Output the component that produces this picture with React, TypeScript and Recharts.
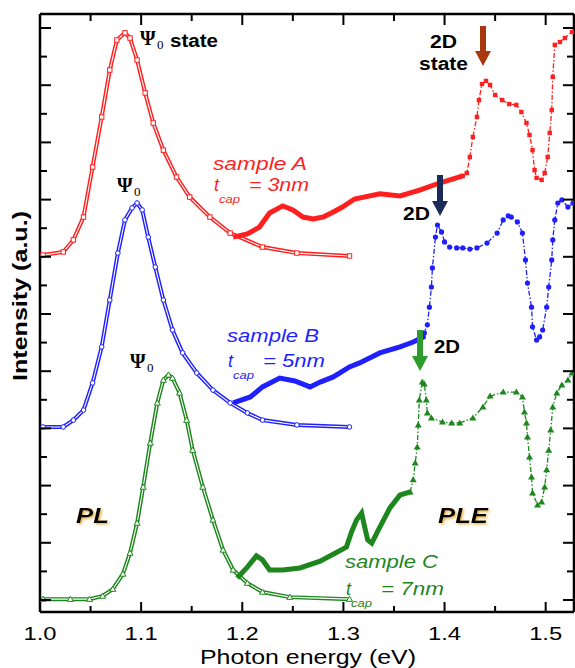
import { ComposedChart, Line, XAxis, YAxis } from 'recharts'

// x: photon energy (eV), i: intensity in tick units (a.u.)
const xTicks = [1.0, 1.05, 1.1, 1.15, 1.2, 1.25, 1.3, 1.35, 1.4, 1.45, 1.5]
const xTickLabels = ['1.0', '1.1', '1.2', '1.3', '1.4', '1.5']
const yTicks = [0, 1, 2, 3, 4, 5, 6, 7, 8, 9, 10, 11, 12, 13, 14, 15, 16, 17, 18, 19, 20]

const plA = [
  { e: 1.003, i: 12.06 }, { e: 1.023, i: 12.17 }, { e: 1.033, i: 12.59 }, { e: 1.043, i: 13.39 },
  { e: 1.052, i: 15.14 }, { e: 1.061, i: 16.89 }, { e: 1.069, i: 18.53 }, { e: 1.076, i: 19.58 },
  { e: 1.084, i: 19.83 }, { e: 1.089, i: 19.65 }, { e: 1.096, i: 18.88 }, { e: 1.104, i: 17.73 },
  { e: 1.112, i: 16.68 }, { e: 1.122, i: 15.73 }, { e: 1.135, i: 14.79 }, { e: 1.148, i: 14.09 },
  { e: 1.168, i: 13.39 }, { e: 1.188, i: 12.83 }, { e: 1.220, i: 12.34 }, { e: 1.254, i: 12.13 },
  { e: 1.306, i: 12.03 }
]

const plB = [
  { e: 1.003, i: 6.05 }, { e: 1.023, i: 6.05 }, { e: 1.033, i: 6.29 }, { e: 1.043, i: 6.64 },
  { e: 1.052, i: 7.59 }, { e: 1.061, i: 8.85 }, { e: 1.069, i: 10.49 }, { e: 1.077, i: 12.13 },
  { e: 1.084, i: 13.29 }, { e: 1.091, i: 13.71 }, { e: 1.096, i: 13.88 }, { e: 1.101, i: 13.64 },
  { e: 1.107, i: 12.69 }, { e: 1.114, i: 11.64 }, { e: 1.122, i: 10.49 }, { e: 1.131, i: 9.44 },
  { e: 1.141, i: 8.64 }, { e: 1.155, i: 7.94 }, { e: 1.171, i: 7.34 }, { e: 1.188, i: 6.89 },
  { e: 1.205, i: 6.54 }, { e: 1.220, i: 6.29 }, { e: 1.254, i: 6.12 }, { e: 1.306, i: 6.05 }
]

const plC = [
  { e: 1.003, i: 0.03 }, { e: 1.030, i: 0.03 }, { e: 1.049, i: 0.03 }, { e: 1.062, i: 0.14 },
  { e: 1.072, i: 0.38 }, { e: 1.082, i: 0.91 }, { e: 1.089, i: 1.64 }, { e: 1.096, i: 2.69 },
  { e: 1.102, i: 3.95 }, { e: 1.109, i: 5.49 }, { e: 1.116, i: 6.89 }, { e: 1.122, i: 7.69 },
  { e: 1.127, i: 7.87 }, { e: 1.131, i: 7.76 }, { e: 1.138, i: 7.24 }, { e: 1.145, i: 6.29 },
  { e: 1.151, i: 5.24 }, { e: 1.161, i: 3.95 }, { e: 1.171, i: 2.80 }, { e: 1.181, i: 1.75 },
  { e: 1.191, i: 1.05 }, { e: 1.205, i: 0.59 }, { e: 1.220, i: 0.28 }, { e: 1.247, i: 0.10 },
  { e: 1.306, i: 0.03 }
]

const pleADense = [
  { e: 1.191, i: 12.69 }, { e: 1.205, i: 12.80 }, { e: 1.217, i: 13.04 }, { e: 1.227, i: 13.53 },
  { e: 1.240, i: 13.78 }, { e: 1.250, i: 13.64 }, { e: 1.260, i: 13.39 }, { e: 1.270, i: 13.32 },
  { e: 1.280, i: 13.39 }, { e: 1.290, i: 13.57 }, { e: 1.299, i: 13.74 }, { e: 1.311, i: 14.02 },
  { e: 1.336, i: 14.20 }, { e: 1.356, i: 14.13 }, { e: 1.376, i: 14.34 }, { e: 1.395, i: 14.58 },
  { e: 1.418, i: 14.83 }
]

const pleASparse = [
  { e: 1.418, i: 14.83 }, { e: 1.422, i: 14.93 }, { e: 1.425, i: 15.49 }, { e: 1.428, i: 16.19 },
  { e: 1.432, i: 16.89 }, { e: 1.434, i: 17.48 }, { e: 1.437, i: 18.04 }, { e: 1.441, i: 18.15 },
  { e: 1.445, i: 18.01 }, { e: 1.450, i: 17.66 }, { e: 1.457, i: 17.48 }, { e: 1.464, i: 17.34 },
  { e: 1.471, i: 17.31 }, { e: 1.476, i: 17.06 }, { e: 1.481, i: 16.68 }, { e: 1.484, i: 16.26 },
  { e: 1.487, i: 15.73 }, { e: 1.489, i: 15.03 }, { e: 1.491, i: 14.76 }, { e: 1.496, i: 14.69 },
  { e: 1.499, i: 14.93 }, { e: 1.502, i: 15.49 }, { e: 1.504, i: 16.33 }, { e: 1.506, i: 17.13 },
  { e: 1.507, i: 18.29 }, { e: 1.509, i: 19.41 }, { e: 1.514, i: 19.51 }, { e: 1.519, i: 19.65 },
  { e: 1.526, i: 19.86 }
]

const pleBDense = [
  { e: 1.191, i: 6.89 }, { e: 1.208, i: 7.10 }, { e: 1.220, i: 7.45 }, { e: 1.237, i: 7.76 },
  { e: 1.252, i: 7.66 }, { e: 1.267, i: 7.45 }, { e: 1.277, i: 7.62 }, { e: 1.290, i: 7.80 },
  { e: 1.306, i: 8.15 }, { e: 1.316, i: 8.29 }, { e: 1.336, i: 8.64 }, { e: 1.356, i: 8.85 },
  { e: 1.369, i: 9.02 }, { e: 1.379, i: 9.20 }
]

const pleBSparse = [
  { e: 1.379, i: 9.20 }, { e: 1.380, i: 9.34 }, { e: 1.383, i: 9.62 }, { e: 1.385, i: 10.24 },
  { e: 1.387, i: 10.94 }, { e: 1.388, i: 11.61 }, { e: 1.391, i: 12.69 }, { e: 1.393, i: 13.11 },
  { e: 1.397, i: 12.87 }, { e: 1.400, i: 12.52 }, { e: 1.405, i: 12.34 }, { e: 1.412, i: 12.31 },
  { e: 1.418, i: 12.31 }, { e: 1.425, i: 12.27 }, { e: 1.432, i: 12.31 }, { e: 1.442, i: 12.48 },
  { e: 1.452, i: 12.83 }, { e: 1.458, i: 13.29 }, { e: 1.463, i: 13.43 }, { e: 1.466, i: 13.39 },
  { e: 1.472, i: 13.22 }, { e: 1.477, i: 12.83 }, { e: 1.480, i: 11.89 }, { e: 1.482, i: 11.08 },
  { e: 1.486, i: 10.24 }, { e: 1.487, i: 9.55 }, { e: 1.491, i: 9.09 }, { e: 1.494, i: 9.20 },
  { e: 1.497, i: 9.44 }, { e: 1.501, i: 10.24 }, { e: 1.503, i: 10.94 }, { e: 1.506, i: 11.89 },
  { e: 1.507, i: 12.59 }, { e: 1.509, i: 13.29 }, { e: 1.512, i: 13.88 }, { e: 1.516, i: 13.99 },
  { e: 1.522, i: 13.74 }, { e: 1.527, i: 13.88 }
]

const pleCDense = [
  { e: 1.195, i: 0.77 }, { e: 1.205, i: 1.15 }, { e: 1.214, i: 1.54 }, { e: 1.220, i: 1.40 },
  { e: 1.227, i: 1.05 }, { e: 1.240, i: 1.05 }, { e: 1.257, i: 1.12 }, { e: 1.277, i: 1.36 },
  { e: 1.294, i: 1.68 }, { e: 1.303, i: 1.85 }, { e: 1.308, i: 2.38 }, { e: 1.313, i: 2.80 },
  { e: 1.318, i: 3.04 }, { e: 1.321, i: 2.55 }, { e: 1.324, i: 2.10 }, { e: 1.328, i: 1.99 },
  { e: 1.336, i: 2.55 }, { e: 1.346, i: 3.22 }, { e: 1.356, i: 3.67 }, { e: 1.366, i: 3.78 }
]

const pleCSparse = [
  { e: 1.366, i: 3.78 }, { e: 1.369, i: 4.20 }, { e: 1.371, i: 4.79 }, { e: 1.373, i: 5.35 },
  { e: 1.374, i: 6.12 }, { e: 1.375, i: 6.99 }, { e: 1.378, i: 7.62 }, { e: 1.380, i: 7.55 },
  { e: 1.382, i: 6.99 }, { e: 1.383, i: 6.54 }, { e: 1.387, i: 6.36 }, { e: 1.398, i: 6.22 },
  { e: 1.407, i: 6.19 }, { e: 1.415, i: 6.19 }, { e: 1.428, i: 6.36 }, { e: 1.438, i: 6.75 },
  { e: 1.445, i: 7.13 }, { e: 1.458, i: 7.27 }, { e: 1.471, i: 7.27 }, { e: 1.477, i: 7.10 },
  { e: 1.479, i: 6.57 }, { e: 1.481, i: 6.19 }, { e: 1.482, i: 5.70 }, { e: 1.484, i: 5.00 },
  { e: 1.486, i: 4.30 }, { e: 1.487, i: 3.74 }, { e: 1.492, i: 3.32 }, { e: 1.496, i: 3.43 },
  { e: 1.499, i: 3.95 }, { e: 1.501, i: 4.55 }, { e: 1.503, i: 5.24 }, { e: 1.505, i: 5.94 },
  { e: 1.507, i: 6.75 }, { e: 1.511, i: 7.24 }, { e: 1.516, i: 7.52 }, { e: 1.522, i: 7.69 },
  { e: 1.526, i: 7.94 }
]

const RED = '#ff1f1f'
const BLUE = '#1f1fff'
const GREEN = '#1d861d'
const SANS = '"Liberation Sans", Arial, sans-serif'
const SERIF = '"Liberation Serif", "DejaVu Serif", serif'

// ticks point into the plot; major every 0.1 eV / every 2nd y unit
function BottomTick(props: any) {
  const { x, y, payload } = props
  const idx = Math.round((payload.value - 1) * 20)
  const major = idx % 2 === 0
  return (
    <g>
      <line x1={x} x2={x} y1={y} y2={y - (major ? 10 : 6)} stroke="#000" strokeWidth={2} />
      {major && (
        <text x={x} y={y + 28} textAnchor="middle" fontSize={19} fontFamily={SANS}
          textLength={33} lengthAdjust="spacingAndGlyphs" fill="#000">
          {xTickLabels[idx / 2]}
        </text>
      )}
    </g>
  )
}

function TopTick(props: any) {
  const { x, y, payload } = props
  const major = Math.round((payload.value - 1) * 20) % 2 === 0
  return <line x1={x} x2={x} y1={y} y2={y + (major ? 11 : 7)} stroke="#000" strokeWidth={2} />
}

function LeftTick(props: any) {
  const { x, y, payload } = props
  const major = payload.value % 2 === 0
  return <line x1={x} x2={x + (major ? 11 : 7)} y1={y} y2={y} stroke="#000" strokeWidth={2} />
}

function RightTick(props: any) {
  const { x, y, payload } = props
  const major = payload.value % 2 === 0
  return <line x1={x} x2={x - (major ? 11 : 7)} y1={y} y2={y} stroke="#000" strokeWidth={2} />
}

const openSquare = (p: any) =>
  p.cx == null ? <g /> : <rect x={p.cx - 2.2} y={p.cy - 2.2} width={4.4} height={4.4} fill="#fff" stroke={RED} strokeWidth={1} />
const openCircle = (p: any) =>
  p.cx == null ? <g /> : <circle cx={p.cx} cy={p.cy} r={2.3} fill="#fff" stroke={BLUE} strokeWidth={1} />
const openTriangle = (p: any) =>
  p.cx == null ? <g /> : <path d={`M${p.cx},${p.cy - 3} L${p.cx + 3},${p.cy + 2.2} L${p.cx - 3},${p.cy + 2.2} Z`} fill="#fff" stroke={GREEN} strokeWidth={1} />
const fillSquare = (p: any) =>
  p.cx == null ? <g /> : <rect x={p.cx - 2.2} y={p.cy - 2.2} width={4.4} height={4.4} fill={RED} />
const fillCircle = (p: any) =>
  p.cx == null ? <g /> : <circle cx={p.cx} cy={p.cy} r={2.6} fill={BLUE} />
const fillTriangle = (p: any) =>
  p.cx == null ? <g /> : <path d={`M${p.cx},${p.cy - 3.5} L${p.cx + 3.5},${p.cy + 2.5} L${p.cx - 3.5},${p.cy + 2.5} Z`} fill={GREEN} />

const DASH = '5 2 1.5 2'

function Arrow({ x, y1, y2, color }: { x: number; y1: number; y2: number; color: string }) {
  const head = 15
  return (
    <g fill={color}>
      <rect x={x - 3} y={y1} width={6} height={y2 - y1 - head + 1} />
      <path d={`M${x - 8},${y2 - head} L${x + 8},${y2 - head} L${x},${y2} Z`} />
    </g>
  )
}

function Psi({ x, y }: { x: number; y: number }) {
  return (
    <g fill="#000" fontFamily={SERIF} fontWeight="bold">
      <text x={x} y={y} fontSize={20}>Ψ</text>
      <text x={x + 17} y={y + 4} fontSize={13} fontWeight="normal">0</text>
    </g>
  )
}

function Sample({ x, y, name, value, color, gap, w1, w2 }: any) {
  return (
    <g fill={color} fontFamily={SANS} fontStyle="italic">
      <text x={x} y={y} fontSize={18} textLength={w1} lengthAdjust="spacingAndGlyphs">{name}</text>
      <text x={x + 1} y={y + gap} fontSize={18}>t</text>
      <text x={x + 6} y={y + gap + 12} fontSize={10} textLength={21} lengthAdjust="spacingAndGlyphs">cap</text>
      <text x={x + 36} y={y + gap} fontSize={18} textLength={w2} lengthAdjust="spacingAndGlyphs">{value}</text>
    </g>
  )
}

export default function App() {
  return (
    <div style={{ position: 'relative', width: 575, height: 668, background: '#fff' }}>
      <style>{'body{margin:0}'}</style>
      <ComposedChart width={575} height={668} margin={{ top: 13, right: 0, bottom: 55, left: 39 }}>
        <XAxis xAxisId="b" type="number" dataKey="e" domain={[1.0, 1.528]} allowDataOverflow
          ticks={xTicks} interval={0} height={1} tickSize={0} tickMargin={0} tickLine={false}
          tick={<BottomTick />} axisLine={{ stroke: '#000', strokeWidth: 2.5 }} />
        <XAxis xAxisId="t" orientation="top" type="number" dataKey="e" domain={[1.0, 1.528]} allowDataOverflow
          ticks={xTicks} interval={0} height={1} tickSize={0} tickMargin={0} tickLine={false}
          tick={<TopTick />} axisLine={{ stroke: '#000', strokeWidth: 2.5 }} />
        <YAxis yAxisId="l" type="number" domain={[-0.42, 20.49]} allowDataOverflow ticks={yTicks}
          interval={0} width={1} tickSize={0} tickMargin={0} tickLine={false}
          tick={<LeftTick />} axisLine={{ stroke: '#000', strokeWidth: 2.5 }} />
        <YAxis yAxisId="r" orientation="right" type="number" domain={[-0.42, 20.49]} allowDataOverflow ticks={yTicks}
          interval={0} width={1} tickSize={0} tickMargin={0} tickLine={false}
          tick={<RightTick />} axisLine={{ stroke: '#000', strokeWidth: 2.5 }} />

        {/* PL spectra: dense open markers -> coloured band with white core */}
        <Line xAxisId="b" yAxisId="l" data={plA} dataKey="i" type="linear" stroke={RED} strokeWidth={4} dot={false} isAnimationActive={false} />
        <Line xAxisId="b" yAxisId="l" data={plA} dataKey="i" type="linear" stroke="#fff" strokeWidth={1.1} dot={openSquare} isAnimationActive={false} />
        <Line xAxisId="b" yAxisId="l" data={plB} dataKey="i" type="linear" stroke={BLUE} strokeWidth={4} dot={false} isAnimationActive={false} />
        <Line xAxisId="b" yAxisId="l" data={plB} dataKey="i" type="linear" stroke="#fff" strokeWidth={1.1} dot={openCircle} isAnimationActive={false} />
        <Line xAxisId="b" yAxisId="l" data={plC} dataKey="i" type="linear" stroke={GREEN} strokeWidth={4} dot={false} isAnimationActive={false} />
        <Line xAxisId="b" yAxisId="l" data={plC} dataKey="i" type="linear" stroke="#fff" strokeWidth={1.1} dot={openTriangle} isAnimationActive={false} />

        {/* PLE spectra */}
        <Line xAxisId="b" yAxisId="l" data={pleADense} dataKey="i" type="linear" stroke={RED} strokeWidth={5} dot={false} isAnimationActive={false} />
        <Line xAxisId="b" yAxisId="l" data={pleASparse} dataKey="i" type="linear" stroke={RED} strokeWidth={1.3} strokeDasharray={DASH} dot={fillSquare} isAnimationActive={false} />
        <Line xAxisId="b" yAxisId="l" data={pleBDense} dataKey="i" type="linear" stroke={BLUE} strokeWidth={5} dot={false} isAnimationActive={false} />
        <Line xAxisId="b" yAxisId="l" data={pleBSparse} dataKey="i" type="linear" stroke={BLUE} strokeWidth={1.3} strokeDasharray={DASH} dot={fillCircle} isAnimationActive={false} />
        <Line xAxisId="b" yAxisId="l" data={pleCDense} dataKey="i" type="linear" stroke={GREEN} strokeWidth={5} dot={false} isAnimationActive={false} />
        <Line xAxisId="b" yAxisId="l" data={pleCSparse} dataKey="i" type="linear" stroke={GREEN} strokeWidth={1.3} strokeDasharray={DASH} dot={fillTriangle} isAnimationActive={false} />
      </ComposedChart>

      <svg width={575} height={668} style={{ position: 'absolute', left: 0, top: 0, pointerEvents: 'none' }}>
        <defs>
          <filter id="glow" x="-20%" y="-20%" width="140%" height="140%">
            <feDropShadow dx={1.5} dy={1.5} stdDeviation={0.8} floodColor="#e0a020" floodOpacity={0.8} />
          </filter>
        </defs>
        <text x={308} y={664} textAnchor="middle" fontSize={20} fontFamily={SANS} textLength={216} lengthAdjust="spacingAndGlyphs">Photon energy (eV)</text>
        <text transform="translate(27,296) rotate(-90)" textAnchor="middle" fontSize={20} fontWeight="bold" fontFamily={SANS} textLength={170} lengthAdjust="spacingAndGlyphs">Intensity (a.u.)</text>

        <Psi x={140} y={45} />
        <text x={170} y={47} fontSize={18} fontWeight="bold" fontFamily={SANS} textLength={48} lengthAdjust="spacingAndGlyphs">state</text>
        <Psi x={117} y={192} />
        <Psi x={130} y={368} />

        <Sample x={213} y={170} name="sample A" value="= 3nm" color={RED} gap={21} w1={94} w2={60} />
        <Sample x={227} y={342} name="sample B" value="= 5nm" color={BLUE} gap={25} w1={92} w2={62} />
        <Sample x={345} y={568} name="sample C" value="= 7nm" color={GREEN} gap={27} w1={93} w2={63} />

        <g fontFamily={SANS} fontWeight="bold" fontSize={18} fill="#000">
          <text x={430} y={48} textLength={27} lengthAdjust="spacingAndGlyphs">2D</text>
          <text x={419} y={70} textLength={49} lengthAdjust="spacingAndGlyphs">state</text>
          <text x={403} y={220} textLength={27} lengthAdjust="spacingAndGlyphs">2D</text>
          <text x={434} y={353} textLength={26} lengthAdjust="spacingAndGlyphs">2D</text>
        </g>
        <Arrow x={483} y1={26} y2={66} color="#a8380f" />
        <Arrow x={440} y1={175} y2={216} color="#1c2a5a" />
        <Arrow x={420} y1={330} y2={371} color="#2c9c2c" />

        <g fontFamily={SANS} fontWeight="bold" fontStyle="italic" fontSize={22} fill="#000" filter="url(#glow)">
          <text x={76} y={523} textLength={33} lengthAdjust="spacingAndGlyphs">PL</text>
          <text x={438} y={523} textLength={50} lengthAdjust="spacingAndGlyphs">PLE</text>
        </g>
      </svg>
    </div>
  )
}
